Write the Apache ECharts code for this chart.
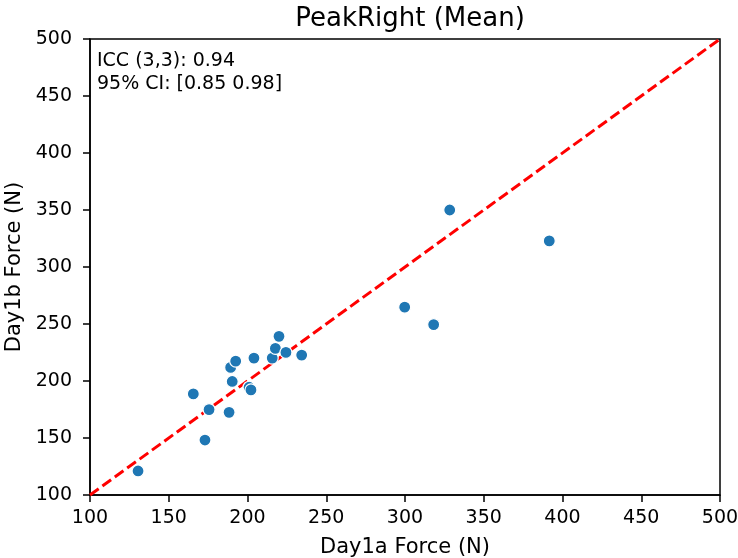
<!DOCTYPE html>
<html>
<head>
<meta charset="utf-8">
<script src="https://cdn.jsdelivr.net/npm/echarts@6/dist/echarts.min.js"></script>
<style>html,body{margin:0;padding:0;background:#fff}#c{width:738px;height:558px}</style>
</head>
<body>
<div id="c"></div>
<script>
const day1a = [130.5,165.6,175.6,173.0,188.3,190.3,189.3,192.5,201.0,202.2,204.1,215.7,217.7,220.0,224.4,234.4,299.8,318.2,328.4,391.6];
const day1b = [121.1,188.7,174.9,148.2,172.5,199.6,211.9,217.4,194.5,192.2,220.1,220.1,228.6,239.2,225.1,222.7,264.8,249.5,350.0,322.9];
const identityLine = [[100,100],[500,500]];
const axisMin = 100, axisMax = 500, axisStep = 50;
const titleText = 'PeakRight (Mean)';
const xName = 'Day1a Force (N)';
const yName = 'Day1b Force (N)';
const iccLines = ['ICC (3,3): 0.94', '95% CI: [0.85 0.98]'];

const font = 'DejaVu Sans';
const chart = echarts.init(document.getElementById('c'));
const axisCommon = {
  type: 'value', min: axisMin, max: axisMax, interval: axisStep,
  axisLine: {show: true, onZero: false, lineStyle: {color: '#000', width: 1.5}},
  axisTick: {show: true, inside: false, length: 7, lineStyle: {color: '#000', width: 1.5}},
  axisLabel: {color: '#000', fontFamily: font, fontSize: 19, hideOverlap: false},
  splitLine: {show: false},
  nameLocation: 'middle',
  nameTextStyle: {color: '#000', fontFamily: font, fontSize: 21}
};
chart.setOption({
  animation: false,
  backgroundColor: '#fff',
  title: {text: titleText, left: 405, textAlign: 'center', top: 1,
    textStyle: {fontFamily: font, fontSize: 26, fontWeight: 'normal', color: '#000'}},
  grid: {left: 90, right: 18, top: 39, bottom: 63, containLabel: false, outerBoundsMode: 'none',
    show: true, borderColor: '#000', borderWidth: 1.5, backgroundColor: '#fff'},
  xAxis: Object.assign({}, axisCommon, {name: xName, nameGap: 42,
    axisLabel: Object.assign({}, axisCommon.axisLabel, {margin: 14})}),
  yAxis: Object.assign({}, axisCommon, {name: yName, nameGap: 61,
    axisLabel: Object.assign({}, axisCommon.axisLabel, {margin: 18})}),
  graphic: [{
    type: 'text', left: 97, top: 50,
    style: {text: iccLines.join('\n'), fontFamily: font, fontSize: 19, lineHeight: 22.7, fill: '#000'}
  }],
  series: [
    {type: 'line', data: identityLine, symbol: 'none', z: 1,
      lineStyle: {color: '#ff0000', width: 3, type: [10.7, 4.6]}},
    {type: 'scatter', data: day1a.map((x, i) => [x, day1b[i]]), symbol: 'circle', symbolSize: 12, z: 3,
      itemStyle: {color: '#1f77b4', borderColor: '#fff', borderWidth: 1.2, opacity: 1}}
  ]
});
</script>
</body>
</html>
